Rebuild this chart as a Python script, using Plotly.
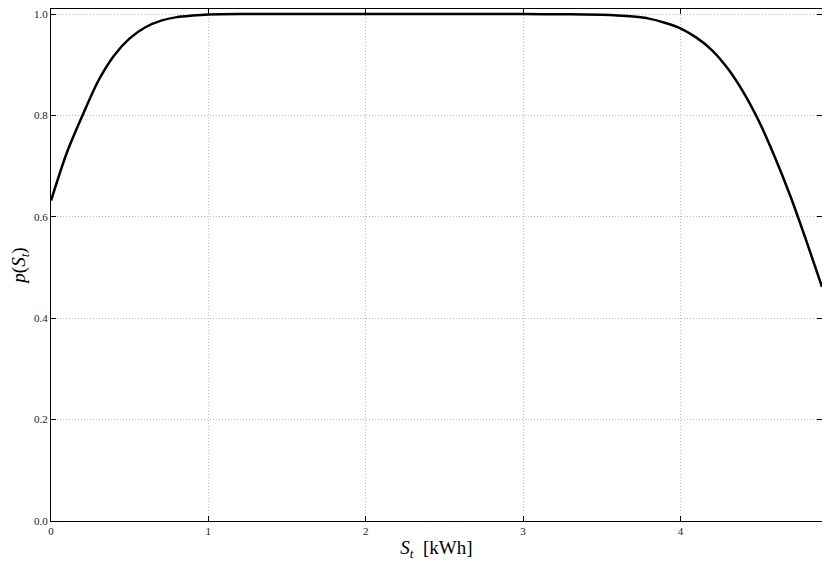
import plotly.graph_objects as go

# storage level S_t (kWh) and probability p(S_t)
s_t = [0.0, 0.1, 0.2, 0.3, 0.4, 0.5, 0.6, 0.7, 0.8, 0.9, 1.0, 1.2, 1.5,
       2.0, 2.5, 3.0, 3.3, 3.5, 3.6, 3.7, 3.8, 3.9, 4.0, 4.1, 4.2, 4.3,
       4.4, 4.5, 4.6, 4.7, 4.8, 4.9]
p_st = [0.632, 0.726, 0.800, 0.868, 0.918, 0.952, 0.974, 0.987, 0.994, 0.997,
        0.999, 1.0, 1.0, 1.0, 1.0, 1.0, 0.9995, 0.9987, 0.9974, 0.995, 0.991,
        0.983, 0.972, 0.954, 0.929, 0.893, 0.846, 0.788, 0.718, 0.640, 0.553,
        0.462]

x_ticks = [0, 1, 2, 3, 4]
y_ticks = [0.0, 0.2, 0.4, 0.6, 0.8, 1.0]

trace = go.Scatter(x=s_t, y=p_st, mode='lines',
                   line=dict(color='black', width=2.5, shape='spline', smoothing=0.8),
                   showlegend=False)

axis_common = dict(showline=True, linecolor='black', linewidth=1.2, mirror='ticks',
                   ticks='inside', ticklen=5, tickcolor='black', automargin=False,
                   showgrid=True, gridcolor='#bdbdbd', griddash='1px,2px', gridwidth=1,
                   zeroline=False, ticklabeloverflow='allow',
                   tickfont=dict(family='Liberation Serif', size=11, color='#222'))

# the page body has an 8px margin, so the figure is sized 8px smaller
layout = go.Layout(
    width=822, height=561,
    margin=dict(l=43, r=8, t=1, b=48),
    paper_bgcolor='white', plot_bgcolor='white',
    font=dict(family='Liberation Serif', color='black'),
    xaxis=dict(range=[0, 4.9], tickvals=x_ticks, ticktext=[str(t) for t in x_ticks],
               title=dict(text='<i>S</i><sub><i>t</i></sub>  [kWh]',
                          font=dict(family='Liberation Serif', size=19), standoff=4),
               **axis_common),
    yaxis=dict(range=[0, 1.01], tickvals=y_ticks, tickformat='.1f',
               title=dict(text='<i>p</i>(<i>S</i><sub><i>t</i></sub>)',
                          font=dict(family='Liberation Serif', size=19), standoff=10),
               **axis_common),
)

fig = go.Figure(data=[trace], layout=layout)
fig.write_html("out.html")
